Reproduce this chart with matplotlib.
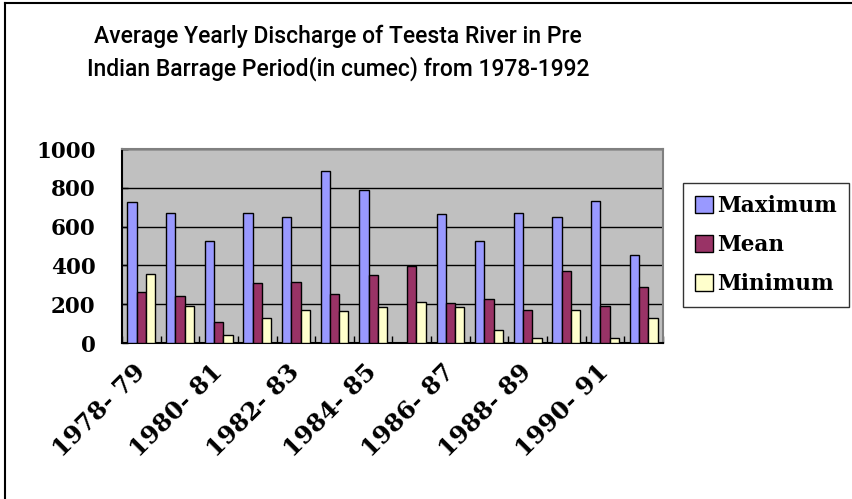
import numpy as np
import matplotlib
matplotlib.use('Agg')
import matplotlib.pyplot as plt
from matplotlib.lines import Line2D

# Data
years = ['1978-79', '1979-80', '1980-81', '1981-82', '1982-83', '1983-84', '1984-85',
         '1985-86', '1986-87', '1987-88', '1988-89', '1989-90', '1990-91', '1991-92']
maximum = [725, 668, 524, 668, 647, 888, 791, 0, 663, 524, 670, 647, 730, 453]
mean = [265, 244, 106, 308, 315, 253, 350, 396, 204, 227, 170, 370, 192, 289]
minimum = [356, 192, 40, 130, 170, 163, 187, 209, 185, 66, 26, 170, 24, 130]
series_names = ['Maximum', 'Mean', 'Minimum']
colors = ['#9999FF', '#993366', '#FFFFCC']

W, H = 853, 499
fig = plt.figure(figsize=(W / 100, H / 100), dpi=100)

# Plot area (pixels)
left, right, top, bottom = 122, 663, 149, 343
ax = fig.add_axes([left / W, 1 - bottom / H, (right - left) / W, (bottom - top) / H])
ax.set_facecolor('#C0C0C0')

x = np.arange(len(years))
bw = 0.24
for i, (vals, c) in enumerate(zip([maximum, mean, minimum], colors)):
    ax.bar(x + (i - 1) * bw, vals, width=bw, color=c, edgecolor='black',
           linewidth=1.0, zorder=3, label=series_names[i])

ax.set_xlim(-0.5, len(years) - 0.5)
ax.set_ylim(0, 1000)
ax.set_yticks(range(0, 1001, 200))
ax.yaxis.grid(True, color='black', linewidth=1.0, zorder=1)
ax.set_axisbelow(True)

serif = 'DejaVu Serif'
ax.tick_params(axis='y', direction='in', length=4, width=1, pad=19,
               labelsize=15.5)
for t in ax.get_yticklabels():
    t.set_fontfamily(serif)
    t.set_fontweight('bold')

ax.set_xticks(x[::2])
ax.set_xticklabels([y.replace('-', '- ') for y in years[::2]], rotation=45,
                   ha='right', va='center', rotation_mode='anchor',
                   fontfamily=serif, fontweight='bold', fontsize=17.5)
ax.tick_params(axis='x', which='major', length=0, pad=18)
ax.set_xticks(np.arange(-0.5, len(years), 1), minor=True)
ax.tick_params(axis='x', which='minor', direction='in', length=5, width=1)

for s in ['left', 'bottom']:
    ax.spines[s].set_color('black')
    ax.spines[s].set_linewidth(1.5)
for s in ['top', 'right']:
    ax.spines[s].set_color('#808080')
    ax.spines[s].set_linewidth(1.5)

# Title
title_font = dict(ha='center', va='center', fontsize=16.5, fontfamily='Roboto',
                  fontweight='medium')
fig.text(338 / W, 1 - 36 / H, 'Average Yearly Discharge of Teesta River in Pre',
         **title_font)
fig.text(338 / W, 1 - 69 / H, 'Indian Barrage Period(in cumec) from 1978-1992',
         **title_font)

# Legend
handles, labels = ax.get_legend_handles_labels()
leg = fig.legend(handles, labels, loc='upper left',
                 bbox_to_anchor=(683 / W, 1 - 183 / H),
                 prop={'family': serif, 'weight': 'bold', 'size': 15.5},
                 frameon=True, fancybox=False, edgecolor='black',
                 handlelength=0.85, handleheight=0.85, handletextpad=0.2,
                 labelspacing=0.8, borderpad=0.55, borderaxespad=0)
leg.get_frame().set_linewidth(1.0)

# Outer border (top and left)
fig.add_artist(Line2D([5 / W, 5 / W], [0, 1 - 3 / H], color='black', lw=1.5,
                      transform=fig.transFigure))
fig.add_artist(Line2D([5 / W, 1], [1 - 3 / H, 1 - 3 / H], color='black', lw=1.5,
                      transform=fig.transFigure))

fig.savefig('out.png', dpi=100, facecolor='white')
